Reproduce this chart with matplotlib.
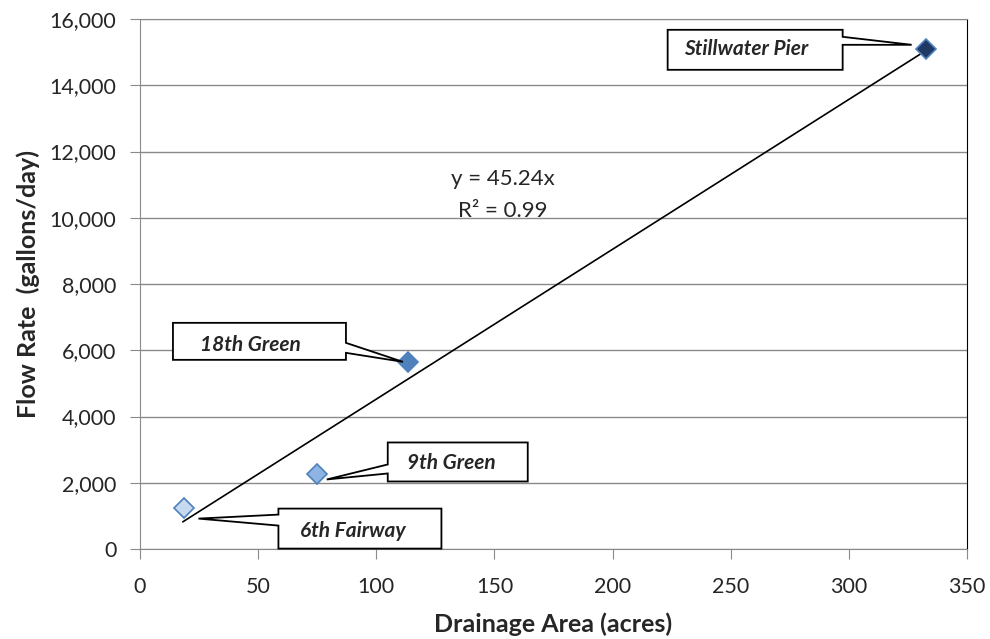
import matplotlib
matplotlib.use("Agg")
import numpy as np
import matplotlib.pyplot as plt
import matplotlib.transforms as mtransforms
from matplotlib.patches import Polygon
from matplotlib.ticker import FuncFormatter, MultipleLocator

plt.rcParams['font.family'] = ['Lato', 'DejaVu Sans']

# data
sites = ['6th Fairway', '9th Green', '18th Green', 'Stillwater Pier']
area = [18.8, 74.8, 113.4, 332.5]          # acres
flow = [1250, 2250, 5650, 15100]           # gallons/day
slope = 45.24
r2 = 0.99

face_cols = ['#c6d9f1', '#8db4e2', '#4f81bd', '#1f3864']
edge_col = '#4f81bd'
txt_col = '#262626'

# callout geometry, pixel offsets from the marker (y up):
# box (left, right, top, bottom), pointer side, pointer base (y1, y2), tip, text centre
callouts = [
    dict(box=(94, 257, -1, -41), side='L', base=(-7, -18), tip=(14, -11), txt=(168, -23)),
    dict(box=(71, 211, 32, -7), side='L', base=(10, 1), tip=(10, -5), txt=(135, 11)),
    dict(box=(-235, -62, 39, 2), side='R', base=(19, 9), tip=(-5, 0), txt=(-158, 17)),
    dict(box=(-258, -83, 19, -21), side='R', base=(12, 4), tip=(-14, 4), txt=(-179, 0)),
]


def callout_outline(c):
    l, r, t, b = c['box']
    y1, y2 = c['base']
    tx, ty = c['tip']
    if c['side'] == 'L':
        pts = [(l, t), (r, t), (r, b), (l, b), (l, y2), (tx, ty), (l, y1)]
    else:
        pts = [(l, t), (r, t), (r, y1), (tx, ty), (r, y2), (r, b), (l, b)]
    return np.array(pts) / 100.0   # pixels -> inches at dpi 100


fig = plt.figure(figsize=(9.9, 6.39), dpi=100)
ax = fig.add_axes([140 / 990, 90 / 639, 827 / 990, 530 / 639])

ax.set_xlim(0, 350)
ax.set_ylim(0, 16000)
ax.xaxis.set_major_locator(MultipleLocator(50))
ax.yaxis.set_major_locator(MultipleLocator(2000))
ax.yaxis.set_major_formatter(FuncFormatter(lambda v, p: f'{v:,.0f}'))
ax.grid(axis='y', color='#8a8a8a', lw=1.0)
ax.set_axisbelow(True)
for s in ['left', 'bottom', 'top']:
    ax.spines[s].set_color('#8a8a8a')
ax.spines['right'].set_color('black')
ax.tick_params(colors='#8a8a8a', labelcolor=txt_col, labelsize=15.5, length=7, direction='out')
ax.tick_params(axis='y', pad=10)
ax.tick_params(axis='x', pad=13)

# trend line through origin, over data range
xt = np.array([min(area) - 0.6, max(area)])
ax.plot(xt, slope * xt, color='black', lw=1.2, zorder=2)

for i in range(len(sites)):
    ax.plot(area[i], flow[i], marker='D', ms=10, mfc=face_cols[i], mec=edge_col,
            mew=1.2, ls='none', zorder=3)
    c = callouts[i]
    trans = fig.dpi_scale_trans + mtransforms.ScaledTranslation(area[i], flow[i], ax.transData)
    ax.add_patch(Polygon(callout_outline(c), closed=True, fc='white', ec='black',
                         lw=1.3, transform=trans, clip_on=False, zorder=4))
    ax.text(c['txt'][0] / 100.0, c['txt'][1] / 100.0, sites[i], transform=trans,
            ha='center', va='center', fontsize=15, fontweight='bold', fontstyle='italic',
            color=txt_col, zorder=5)

ax.text(0.439, 0.668, f'y = {slope}x\nR² = {r2}', transform=ax.transAxes,
        ha='center', va='center', fontsize=16, color=txt_col, linespacing=1.75)

ax.set_xlabel('Drainage Area (acres)', fontsize=18, fontweight='bold', color=txt_col, labelpad=11)
ax.set_ylabel('Flow Rate  (gallons/day)', fontsize=18, fontweight='bold', color=txt_col, labelpad=7)

fig.savefig('out.png', dpi=100)
